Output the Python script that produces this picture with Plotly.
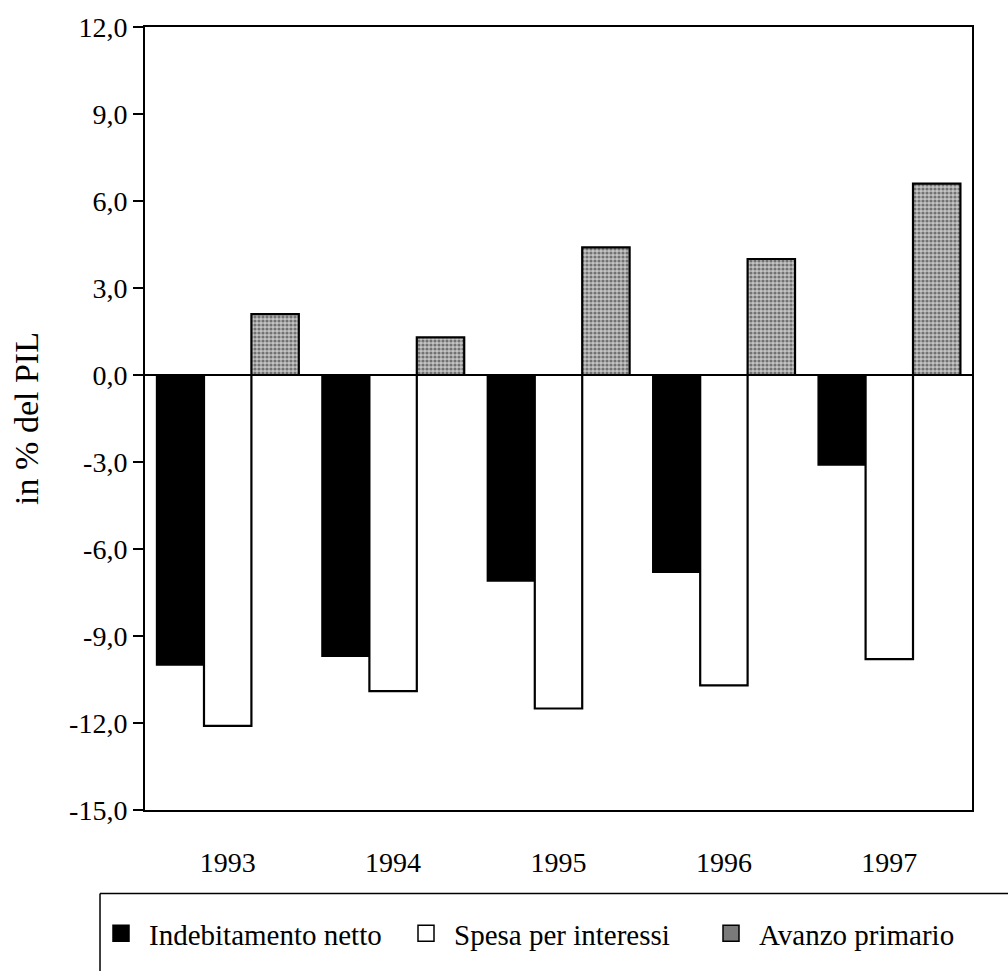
import plotly.graph_objects as go

years = ["1993", "1994", "1995", "1996", "1997"]
indebitamento = [-10.0, -9.7, -7.1, -6.8, -3.1]
spesa = [-12.1, -10.9, -11.5, -10.7, -9.8]
avanzo = [2.1, 1.3, 4.4, 4.0, 6.6]
y_ticks = [12, 9, 6, 3, 0, -3, -6, -9, -12, -15]
y_tick_labels = ["12,0", "9,0", "6,0", "3,0", "0,0", "-3,0", "-6,0", "-9,0", "-12,0", "-15,0"]
names = ["Indebitamento netto", "Spesa per interessi", "Avanzo primario"]

FONT = "Liberation Serif, Times New Roman, serif"

fig = go.Figure()
fig.add_trace(go.Bar(x=years, y=indebitamento, name=names[0], showlegend=False,
                     marker=dict(color="black", line=dict(color="black", width=1.5))))
fig.add_trace(go.Bar(x=years, y=spesa, name=names[1], showlegend=False,
                     marker=dict(color="white", line=dict(color="black", width=2.2))))
fig.add_trace(go.Bar(x=years, y=avanzo, name=names[2], showlegend=False,
                     marker=dict(color="#b8b8b8", line=dict(color="black", width=2.2),
                                 pattern=dict(shape=".", fgcolor="#202020", bgcolor="#c4c4c4",
                                              size=4, solidity=0.5))))

# legend entries (larger square symbols than bar legend glyphs)
legend_colors = ["black", "white", "#7a7a7a"]
for nm, col in zip(names, legend_colors):
    fig.add_trace(go.Scatter(x=[None], y=[None], mode="markers", name=nm,
                             marker=dict(symbol="square", size=16, color=col,
                                         line=dict(color="black", width=1.5))))

fig.update_layout(
    width=1008, height=971,
    margin=dict(l=145, r=36, t=25, b=159),
    paper_bgcolor="white", plot_bgcolor="white",
    font=dict(family=FONT, size=28, color="black"),
    barmode="group", bargap=0.14, bargroupgap=0,
    showlegend=True,
    legend=dict(orientation="h", x=-0.0556, xanchor="left", y=-0.125, yanchor="top",
                font=dict(family=FONT, size=29, color="black"),
                bgcolor="rgba(0,0,0,0)", entrywidth=244, entrywidthmode="pixels",
                itemwidth=46, traceorder="normal", itemsizing="trace"),
)
fig.update_yaxes(range=[-15, 12], tickvals=y_ticks, ticktext=y_tick_labels,
                 ticks="outside", ticklen=10, tickwidth=1.5, tickcolor="black",
                 showline=True, linecolor="black", linewidth=2, mirror=True,
                 showgrid=False, zeroline=True, zerolinecolor="black", zerolinewidth=1.5,
                 title=dict(text="in % del PIL", font=dict(family=FONT, size=34), standoff=20))
fig.update_xaxes(showline=True, linecolor="black", linewidth=2, mirror=True,
                 ticks="", showgrid=False, ticklabelstandoff=26)

# legend frame (top and left edges)
fig.add_shape(type="line", xref="paper", yref="paper", x0=-0.0544, x1=1.05, y0=-0.1067, y1=-0.1067,
              line=dict(color="black", width=1.5))
fig.add_shape(type="line", xref="paper", yref="paper", x0=-0.0544, x1=-0.0544, y0=-0.1067, y1=-0.21,
              line=dict(color="black", width=1.5))

fig.write_html("out.html")
